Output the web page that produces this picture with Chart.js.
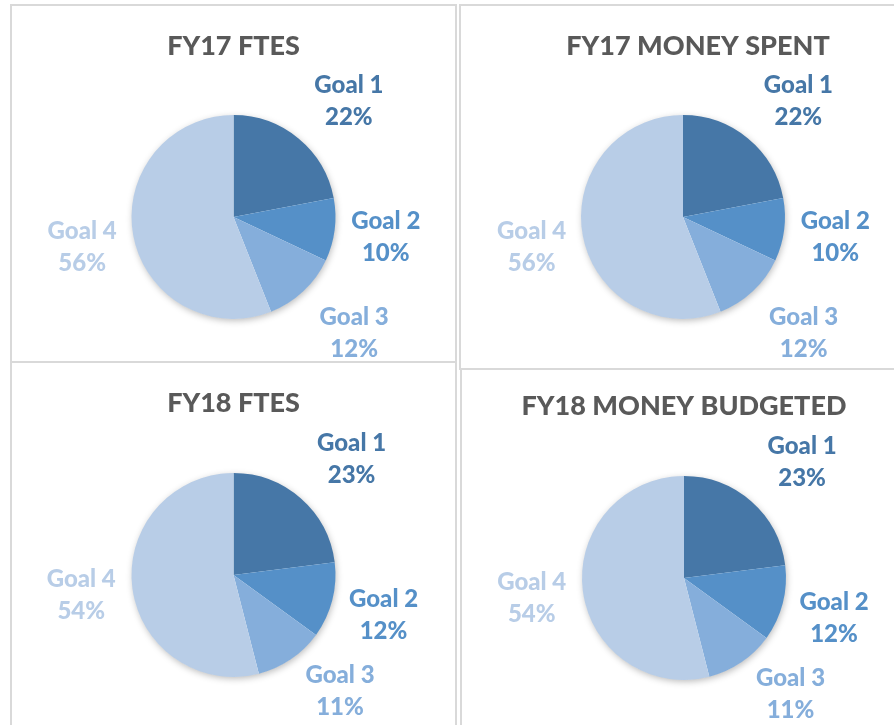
<!DOCTYPE html>
<html>
<head>
<meta charset="utf-8">
<script src="https://cdn.jsdelivr.net/npm/chart.js@4.4.1/dist/chart.umd.min.js"></script>
<style>
    html, body { margin: 0; padding: 0; background: #fff; overflow: hidden; }
    body { width: 894px; height: 725px; position: relative; }
    .panel { position: absolute; box-sizing: border-box; border: 2px solid #d9d9d9; }
    canvas { position: absolute; }
</style>
</head>
<body>
<div class="panel" style="left:10px; top:4px; width:447px; height:359px;"></div>
<div class="panel" style="left:459px; top:4px; width:440px; height:366px;"></div>
<div class="panel" style="left:10px; top:361px; width:447px; height:400px;"></div>
<div class="panel" style="left:460px; top:368px; width:440px; height:400px;"></div>

<canvas id="fy17Ftes" width="443" height="355" style="left:12px; top:6px;"></canvas>
<canvas id="fy17Money" width="444" height="362" style="left:461px; top:6px;"></canvas>
<canvas id="fy18Ftes" width="443" height="362" style="left:12px; top:363px;"></canvas>
<canvas id="fy18Money" width="444" height="355" style="left:462px; top:370px;"></canvas>

<script>
const goals = ['Goal 1', 'Goal 2', 'Goal 3', 'Goal 4'];
const fy17FtesValues = [22, 10, 12, 56];
const fy17MoneySpentValues = [22, 10, 12, 56];
const fy18FtesValues = [23, 12, 11, 54];
const fy18MoneyBudgetedValues = [23, 12, 11, 54];

const goalColors = ['#4677a7', '#5590c8', '#85aedb', '#b8cde7'];
const titleColor = '#595959';
const fontFamily = 'Lato, "Open Sans", sans-serif';

const radius = 102;
const titleSize = 27;

const pieExtras = {
    id: 'pieExtras',
    afterLayout(chart, args, opts) {
        // Excel centres this one title a little right of the pie
        if (opts.titleShift && chart.titleBlock) {
            chart.titleBlock.left += opts.titleShift;
            chart.titleBlock.right += opts.titleShift;
        }
    },
    beforeDatasetsDraw(chart) {
        // soft shadow under the pie
        const arc = chart.getDatasetMeta(0).data[0];
        if (!arc) return;
        const p = arc.getProps(['x', 'y', 'outerRadius'], true);
        const ctx = chart.ctx;
        ctx.save();
        ctx.shadowColor = 'rgba(0,0,0,0.28)';
        ctx.shadowBlur = 7;
        ctx.shadowOffsetX = 1;
        ctx.shadowOffsetY = 2;
        ctx.fillStyle = '#ffffff';
        ctx.beginPath();
        ctx.arc(p.x, p.y, p.outerRadius - 0.5, 0, Math.PI * 2);
        ctx.fill();
        ctx.restore();
    },
    afterDatasetsDraw(chart) {
        // outside-end labels, best-fit style
        const ctx = chart.ctx;
        const meta = chart.getDatasetMeta(0);
        const values = chart.data.datasets[0].data;
        const total = values.reduce((a, b) => a + b, 0);
        ctx.save();
        ctx.font = '900 24px ' + fontFamily;
        ctx.textAlign = 'center';
        ctx.textBaseline = 'middle';
        meta.data.forEach((arc, i) => {
            const p = arc.getProps(['x', 'y', 'startAngle', 'endAngle', 'outerRadius'], true);
            const mid = (p.startAngle + p.endAngle) / 2;
            const dx = Math.cos(mid);
            const dy = Math.sin(mid);
            const lx = p.x + dx * (p.outerRadius + 51) + Math.sign(dx) * 30 * dy * dy;
            const ly = p.y + Math.sign(dy) * Math.min(Math.abs(dy) * (p.outerRadius + 60), p.outerRadius + 14);
            ctx.fillStyle = goalColors[i];
            ctx.fillText(chart.data.labels[i], lx, ly - 16);
            ctx.fillText(Math.round(values[i] / total * 100) + '%', lx, ly + 16);
        });
        ctx.restore();
    }
};

function makePie(id, title, values, box, titleY, centerY, titleShift) {
    const lineH = titleSize * 1.2;
    const areaTop = centerY - radius - box.top;
    const areaBottom = centerY + radius - box.top;
    const titlePadTop = titleY - box.top - lineH / 2;
    const titlePadBottom = areaTop - titlePadTop - lineH;

    return new Chart(document.getElementById(id), {
        type: 'pie',
        data: {
            labels: goals,
            datasets: [{
                data: values,
                backgroundColor: goalColors,
                borderWidth: 0
            }]
        },
        options: {
            responsive: false,
            animation: false,
            layout: {
                padding: { top: 0, left: 0, right: 0, bottom: box.height - areaBottom }
            },
            plugins: {
                legend: { display: false },
                tooltip: { enabled: false },
                title: {
                    display: true,
                    text: title,
                    color: titleColor,
                    font: { family: fontFamily, size: titleSize, weight: '900', lineHeight: 1.2 },
                    padding: { top: titlePadTop, bottom: titlePadBottom }
                },
                pieExtras: { titleShift: titleShift }
            }
        },
        plugins: [pieExtras]
    });
}

makePie('fy17Ftes', 'FY17 FTES', fy17FtesValues, { top: 6, height: 355 }, 46, 217, 0);
makePie('fy17Money', 'FY17 MONEY SPENT', fy17MoneySpentValues, { top: 6, height: 362 }, 46, 217, 15);
makePie('fy18Ftes', 'FY18 FTES', fy18FtesValues, { top: 363, height: 362 }, 403, 575, 0);
makePie('fy18Money', 'FY18 MONEY BUDGETED', fy18MoneyBudgetedValues, { top: 370, height: 355 }, 406, 578, 0);
</script>
</body>
</html>
